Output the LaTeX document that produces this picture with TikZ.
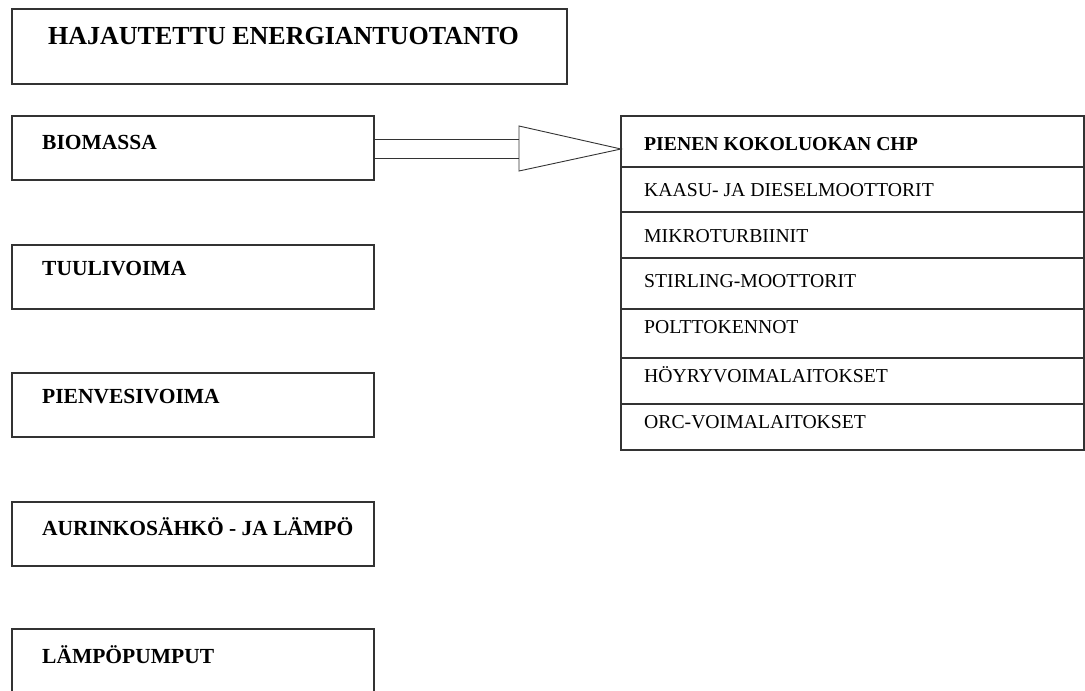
\documentclass[tikz,border=0pt]{standalone}
\usepackage{fontspec}
\setmainfont{Liberation Serif}
\usetikzlibrary{calc}
\begin{document}
\begin{tikzpicture}[x=1pt,y=-1pt,
  frame/.style={draw=black!80, line width=1.1pt, inner sep=0pt, outer sep=0pt,
                anchor=north west, rectangle},
  lbl/.style={anchor=base west, inner sep=0pt, font=\fontsize{21.5}{24}\selectfont\bfseries},
  headlbl/.style={anchor=base west, inner sep=0pt, font=\fontsize{26}{30}\selectfont\bfseries},
  rowlbl/.style={anchor=base west, inner sep=0pt, font=\fontsize{19.7}{22}\selectfont},
  conn/.style={draw=black!80, line width=0.9pt}]
\useasboundingbox (0,0) rectangle (1085,691);
\clip (0,0) rectangle (1085,691);

% heading
\node[frame, minimum width=555pt, minimum height=75pt] (head) at (12,9) {};
\node[headlbl] (headtxt) at (48,44) {HAJAUTETTU ENERGIANTUOTANTO};

% energy sources
\node[frame, minimum width=362pt, minimum height=64pt] (bio) at (12,116) {};
\node[lbl] (biotxt) at (42,149) {BIOMASSA};
\node[frame, minimum width=362pt, minimum height=64pt] (wind) at (12,245) {};
\node[lbl] (windtxt) at (42,275) {TUULIVOIMA};
\node[frame, minimum width=362pt, minimum height=64pt] (hydro) at (12,373) {};
\node[lbl] (hydrotxt) at (42,403) {PIENVESIVOIMA};
\node[frame, minimum width=362pt, minimum height=64pt] (solar) at (12,502) {};
\node[lbl] (solartxt) at (42,535) {AURINKOSÄHKÖ - JA LÄMPÖ};
\node[frame, minimum width=362pt, minimum height=64pt] (heat) at (12,629) {};
\node[lbl] (heattxt) at (42,663) {LÄMPÖPUMPUT};

% CHP table
\node[frame, minimum width=463pt, minimum height=51pt] (chp) at (621,116) {};
\node[frame, minimum width=463pt, minimum height=45pt] (r1) at (621,167) {};
\node[frame, minimum width=463pt, minimum height=46pt] (r2) at (621,212) {};
\node[frame, minimum width=463pt, minimum height=51pt] (r3) at (621,258) {};
\node[frame, minimum width=463pt, minimum height=49pt] (r4) at (621,309) {};
\node[frame, minimum width=463pt, minimum height=46pt] (r5) at (621,358) {};
\node[frame, minimum width=463pt, minimum height=46pt] (r6) at (621,404) {};
\node[rowlbl, font=\fontsize{19.7}{22}\selectfont\bfseries] (chptxt) at (644,150) {PIENEN KOKOLUOKAN CHP};
\node[rowlbl] (t1) at (644,196) {KAASU- JA DIESELMOOTTORIT};
\node[rowlbl] (t2) at (644,242) {MIKROTURBIINIT};
\node[rowlbl] (t3) at (644,287) {STIRLING-MOOTTORIT};
\node[rowlbl] (t4) at (644,333) {POLTTOKENNOT};
\node[rowlbl] (t5) at (644,382) {HÖYRYVOIMALAITOKSET};
\node[rowlbl] (t6) at (644,428) {ORC-VOIMALAITOKSET};

% block arrow from biomass to CHP
\draw[conn] ($(bio.east)+(0,-9)$) -- ($(bio.east)+(145,-9)$);
\draw[conn] ($(bio.east)+(0,10)$) -- ($(bio.east)+(145,10)$);
\draw[conn, fill=white, line join=miter] ($(bio.east)+(145,-22)$) -- ($(bio.east -| chp.west)+(0,1)$)
  -- ($(bio.east)+(145,23)$) -- cycle;
\end{tikzpicture}
\end{document}
